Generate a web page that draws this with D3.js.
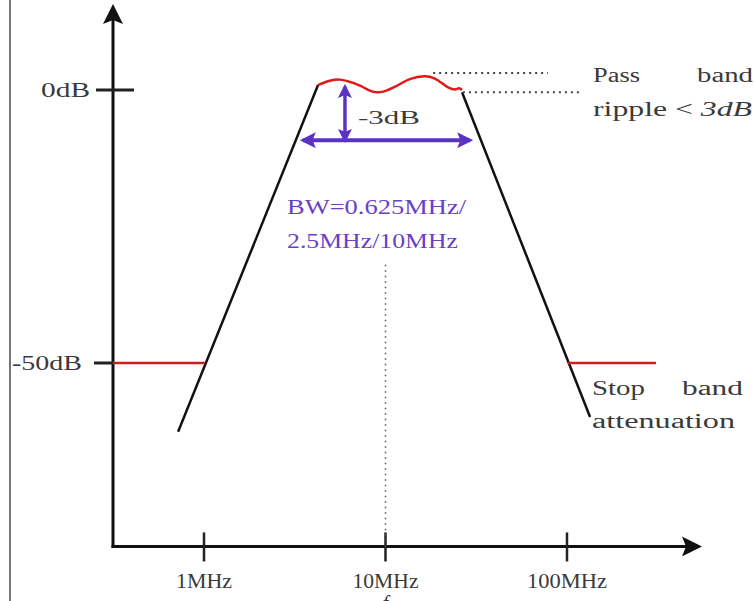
<!DOCTYPE html>
<html lang="en">
<head>
<meta charset="utf-8">
<title>Band pass filter</title>
<style>
body { margin: 0; background: #fff; }
svg text { font-family: "Liberation Serif", "DejaVu Serif", serif; fill: #3a3a3a; }
</style>
</head>
<body>
<div id="chart"></div>
<script src="https://d3js.org/d3.v7.min.js"></script>
<script>
// frequency in MHz, gain in dB
var xTicks = [1, 10, 100];
var xTickLabels = ["1MHz", "10MHz", "100MHz"];
var yTicks = [0, -50];
var yTickLabels = ["0dB", "-50dB"];

var leftSkirt = [[0.72, -62.6], [4.25, 0.9]];
var rightSkirt = [[26.4, -0.4], [134, -59.9]];
var ripple = [[4.25, 0.9], [4.94, 1.7], [5.6, 1.9], [6.5, 1.4], [7.24, 0.8], [8.5, -0.3], [9.7, -0.3], [11.3, 0.6],
	[13.6, 2.0], [16.5, 2.5], [18.7, 2.1], [22.1, 0.5], [24.1, 0.1], [25.4, 0.3], [26.4, 0.0]];
var stopLeft = [[0.315, -50], [1.01, -50]];
var stopRight = [[101, -50], [309, -50]];
var rippleTop = [[18.3, 3.1], [78.5, 3.1]];
var rippleBottom = [[26.7, -0.4], [118, -0.4]];
var bwArrow = [[3.51, -9.2], [29.2, -9.2]];
var dbArrow = [[5.98, 0.6], [5.98, -9.2]];
var centerLine = [[10, -32], [10, -83.6]];

var width = 754, height = 601;

var x = d3.scaleLog().domain([1, 100]).range([204, 567]);
var y = d3.scaleLinear().domain([0, -50]).range([90, 363]);

var svg = d3.select("#chart").append("svg")
	.attr("width", width)
	.attr("height", height);

var defs = svg.append("defs");
function marker(id, color, w, h) {
	defs.append("marker")
		.attr("id", id)
		.attr("viewBox", "0 0 10 10")
		.attr("refX", 8).attr("refY", 5)
		.attr("markerWidth", w).attr("markerHeight", h)
		.attr("markerUnits", "userSpaceOnUse")
		.attr("orient", "auto-start-reverse")
		.append("path")
		.attr("d", "M0,0 L10,5 L0,10 L2,5 Z")
		.attr("fill", color);
}
marker("arrBlack", "#111", 22, 20);
marker("arrPurple", "#5b33c4", 20, 16);
marker("arrPurpleS", "#5b33c4", 14, 14);

// left border of the original figure
svg.append("line")
	.attr("x1", 10).attr("x2", 10).attr("y1", 0).attr("y2", height)
	.attr("stroke", "#777").attr("stroke-width", 2);

var line = d3.line().x(function(d){ return x(d[0]); }).y(function(d){ return y(d[1]); });

// axes
var yBottom = y(-83.6), xLeft = 113;
svg.append("line")
	.attr("x1", xLeft).attr("x2", xLeft).attr("y1", yBottom + 1.5).attr("y2", 8)
	.attr("stroke", "#111").attr("stroke-width", 3)
	.attr("marker-end", "url(#arrBlack)");
svg.append("line")
	.attr("x1", xLeft - 1.5).attr("x2", 698).attr("y1", yBottom).attr("y2", yBottom)
	.attr("stroke", "#111").attr("stroke-width", 3)
	.attr("marker-end", "url(#arrBlack)");

// x ticks
var xLabelLen = [56, 66, 80];
var xg = svg.append("g");
xTicks.forEach(function(t, i) {
	xg.append("line")
		.attr("x1", x(t)).attr("x2", x(t))
		.attr("y1", yBottom - 14).attr("y2", yBottom + 15)
		.attr("stroke", "#222").attr("stroke-width", 2.5);
	xg.append("text").text(xTickLabels[i])
		.attr("x", x(t) - xLabelLen[i] / 2).attr("y", 588)
		.attr("font-size", 22)
		.attr("textLength", xLabelLen[i])
		.attr("lengthAdjust", "spacingAndGlyphs");
});
svg.append("text").text("f")
	.attr("x", x(10) - 3).attr("y", 610)
	.attr("font-size", 20).attr("font-style", "italic");

// y ticks
var yLabelX = [41, 12], yLabelLen = [49, 70];
var yg = svg.append("g");
yTicks.forEach(function(t, i) {
	yg.append("line")
		.attr("x1", t === 0 ? 96 : 94).attr("x2", t === 0 ? 134 : xLeft)
		.attr("y1", y(t)).attr("y2", y(t))
		.attr("stroke", "#222").attr("stroke-width", 3);
	yg.append("text").text(yTickLabels[i])
		.attr("x", yLabelX[i]).attr("y", y(t) + 7)
		.attr("font-size", 21)
		.attr("textLength", yLabelLen[i])
		.attr("lengthAdjust", "spacingAndGlyphs");
});

// center dotted line
svg.append("path").datum(centerLine)
	.attr("d", line).attr("fill", "none")
	.attr("stroke", "#555").attr("stroke-width", 1.5)
	.attr("stroke-dasharray", "1.5,4");

// filter skirts
[leftSkirt, rightSkirt].forEach(function(s) {
	svg.append("path").datum(s)
		.attr("d", line).attr("fill", "none")
		.attr("stroke", "#111").attr("stroke-width", 2.5);
});

// stop band red lines
[stopLeft, stopRight].forEach(function(s) {
	svg.append("path").datum(s)
		.attr("d", line).attr("fill", "none")
		.attr("stroke", "#d01c1c").attr("stroke-width", 2.5);
});

// pass band ripple
svg.append("path").datum(ripple)
	.attr("d", line.curve(d3.curveCatmullRom))
	.attr("fill", "none")
	.attr("stroke", "#e01818").attr("stroke-width", 2.5);
line.curve(d3.curveLinear);

// ripple bounds
[rippleTop, rippleBottom].forEach(function(s) {
	svg.append("path").datum(s)
		.attr("d", line).attr("fill", "none")
		.attr("stroke", "#444").attr("stroke-width", 2)
		.attr("stroke-dasharray", "2,4");
});

// bandwidth arrows
svg.append("path").datum(bwArrow)
	.attr("d", line).attr("fill", "none")
	.attr("stroke", "#5b33c4").attr("stroke-width", 4)
	.attr("marker-start", "url(#arrPurple)")
	.attr("marker-end", "url(#arrPurple)");
svg.append("path").datum(dbArrow)
	.attr("d", line).attr("fill", "none")
	.attr("stroke", "#5b33c4").attr("stroke-width", 3.5)
	.attr("marker-start", "url(#arrPurpleS)")
	.attr("marker-end", "url(#arrPurpleS)");

// annotations
function label(txt, px, py, len, opts) {
	var t = svg.append("text").text(txt)
		.attr("x", px).attr("y", py)
		.attr("font-size", (opts && opts.size) || 20)
		.attr("textLength", len)
		.attr("lengthAdjust", "spacingAndGlyphs");
	if (opts && opts.color) t.style("fill", opts.color);
	return t;
}
label("-3dB", 358, 124, 62, {size: 19});
label("BW=0.625MHz/", 287, 214, 179, {color: "#6a3fc6", size: 21});
label("2.5MHz/10MHz", 287, 248, 171, {color: "#6a3fc6", size: 21});

label("Pass", 593, 82, 47);
label("band", 697, 82, 56);
var rp = svg.append("text").attr("x", 593).attr("y", 116).attr("font-size", 20);
rp.append("tspan").text("ripple < ");
rp.append("tspan").text("3dB").attr("font-style", "italic");
rp.attr("textLength", 159).attr("lengthAdjust", "spacingAndGlyphs");

label("Stop", 592, 395, 53);
label("band", 682, 395, 61);
label("attenuation", 592, 428, 143);
</script>
</body>
</html>
